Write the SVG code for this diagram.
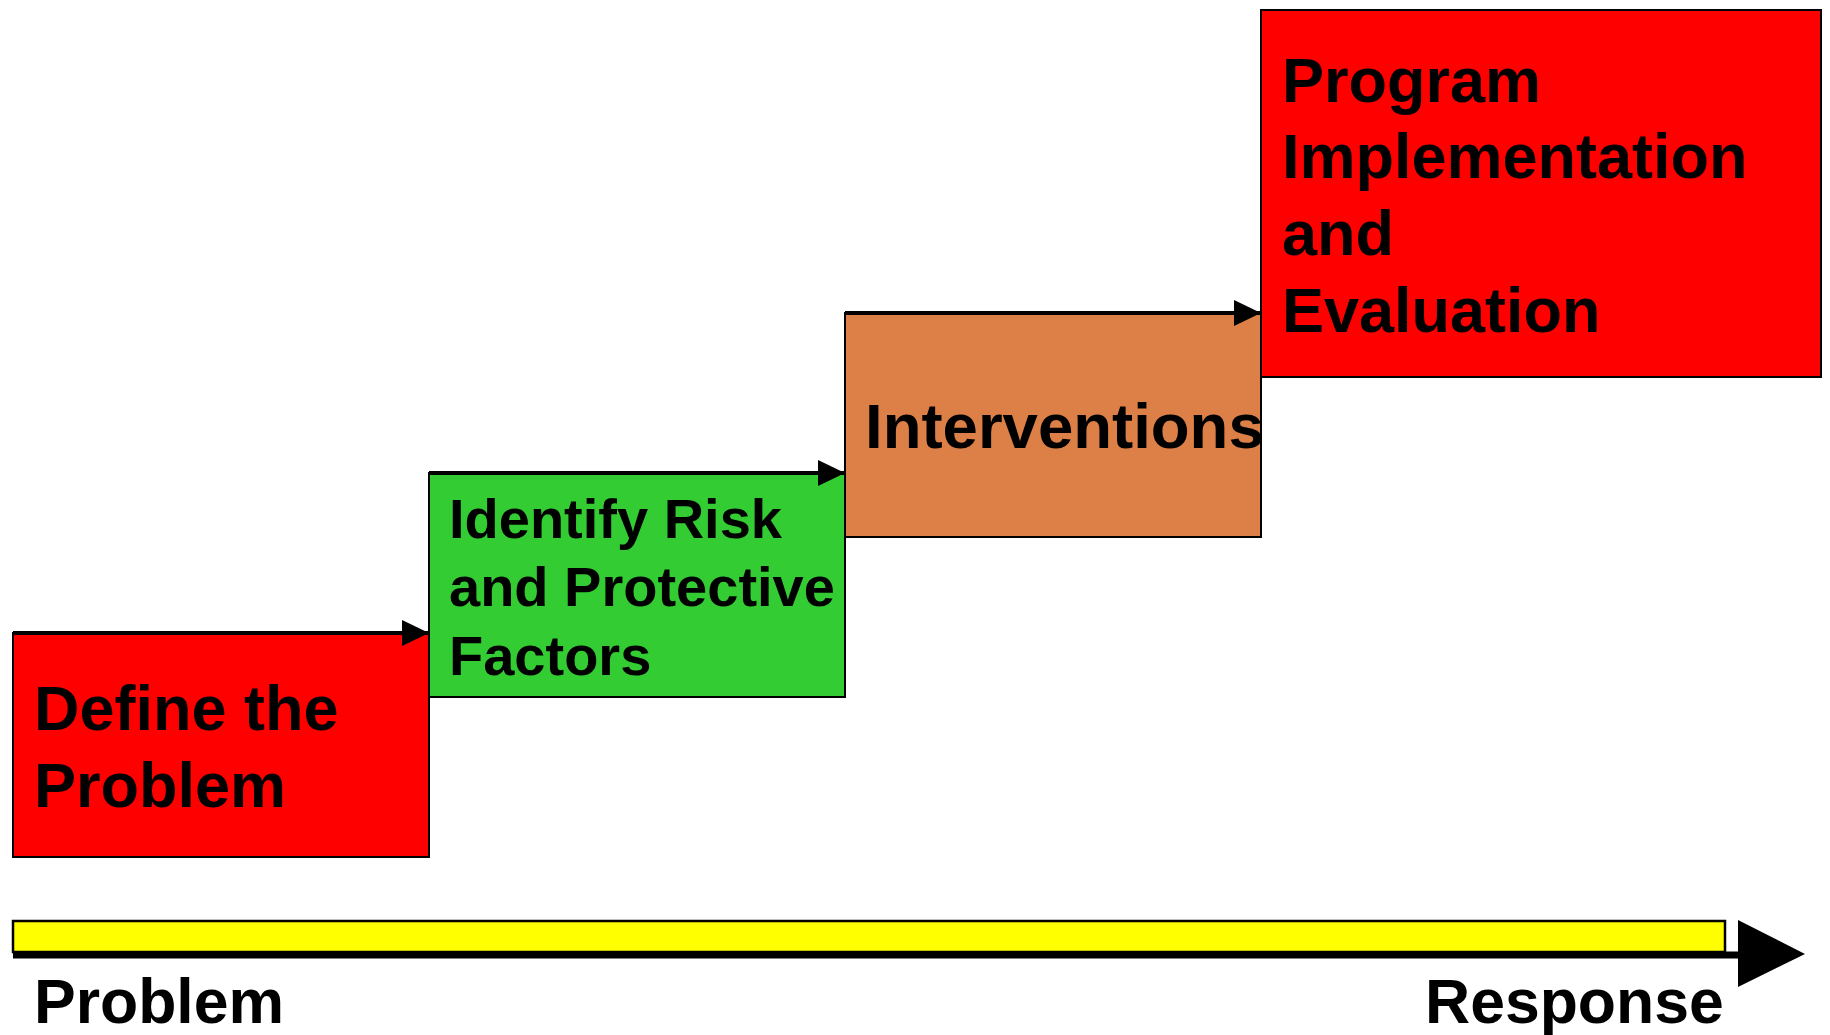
<svg xmlns="http://www.w3.org/2000/svg" width="1830" height="1035" viewBox="0 0 1830 1035">
<style>
.box{stroke:#000;stroke-width:2}
.lbl{font-family:"Liberation Sans",Arial,sans-serif;font-weight:bold;fill:#000}
.conn{stroke:#000;stroke-width:4;fill:none}
</style>
<defs>
<marker id="ah" markerUnits="userSpaceOnUse" markerWidth="28" markerHeight="28" viewBox="0 0 28 28" refX="27" refY="14" orient="auto">
<path d="M0,1 L27,14 L0,27 Z" fill="#000"/>
</marker>
</defs>
<rect width="1830" height="1035" fill="#fff"/>
<g id="node-define">
<rect class="box" x="13" y="633" width="416" height="224" fill="#FF0000"/>
<text class="lbl" font-size="63" x="34" y="730">Define the</text>
<text class="lbl" font-size="63" x="34" y="807">Problem</text>
</g>
<g id="node-identify">
<rect class="box" x="429" y="473" width="416" height="224" fill="#33CC33"/>
<text class="lbl" font-size="56" x="449" y="538">Identify Risk</text>
<text class="lbl" font-size="56" x="449" y="606">and Protective</text>
<text class="lbl" font-size="56" x="449" y="675">Factors</text>
</g>
<g id="node-interventions">
<rect class="box" x="845" y="313" width="416" height="224" fill="#DD8048"/>
<text class="lbl" font-size="63.5" x="865" y="448">Interventions</text>
</g>
<g id="node-program">
<rect class="box" x="1261" y="10" width="560" height="367" fill="#FF0000"/>
<text class="lbl" font-size="63" x="1282" y="102">Program</text>
<text class="lbl" font-size="63" x="1282" y="178">Implementation</text>
<text class="lbl" font-size="63" x="1282" y="255">and</text>
<text class="lbl" font-size="63" x="1282" y="332">Evaluation</text>
</g>
<g id="connectors">
<line class="conn" x1="13" y1="633" x2="429" y2="633" marker-end="url(#ah)"/>
<line class="conn" x1="429" y1="473" x2="845" y2="473" marker-end="url(#ah)"/>
<line class="conn" x1="845" y1="313" x2="1261" y2="313" marker-end="url(#ah)"/>
</g>
<g id="axis">
<line x1="13" y1="955" x2="1745" y2="955" stroke="#000" stroke-width="7"/>
<rect x="13" y="921" width="1712" height="31" fill="#FFFF00" stroke="#000" stroke-width="2.5"/>
<polygon points="1738,920 1805,954 1738,987" fill="#000"/>
<text class="lbl" font-size="62.5" x="34" y="1023">Problem</text>
<text class="lbl" font-size="62.5" x="1425" y="1023">Response</text>
</g>
</svg>
